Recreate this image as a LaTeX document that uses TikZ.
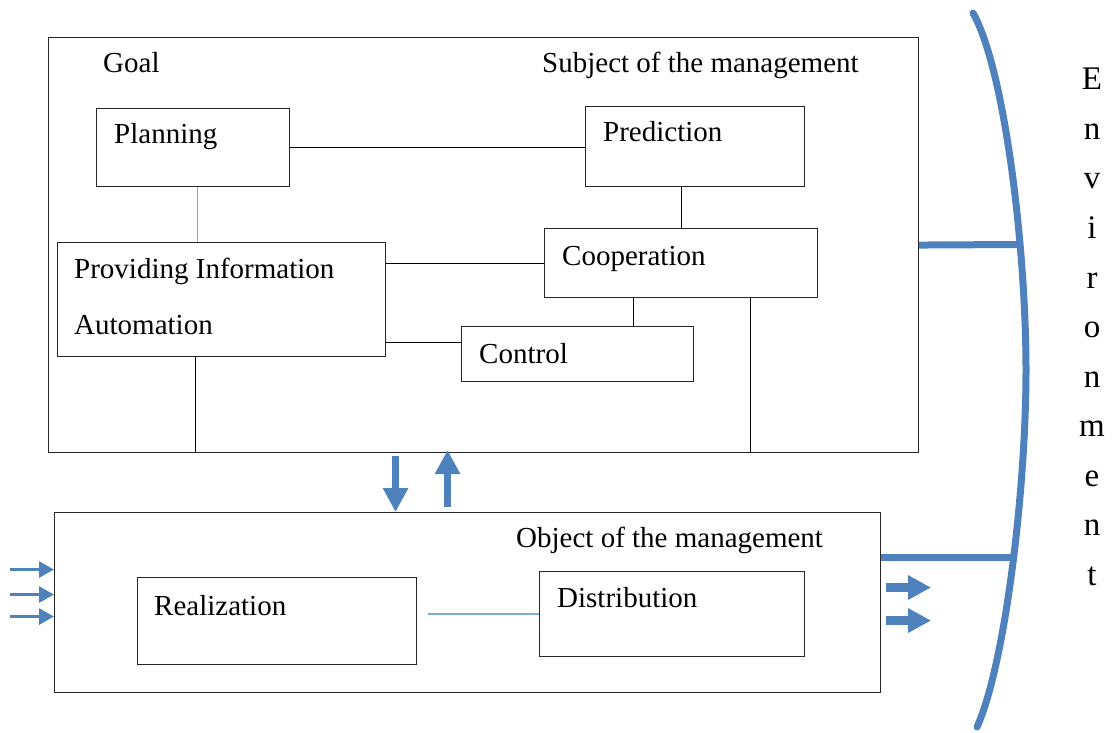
\documentclass[tikz,border=0pt]{standalone}
\usepackage{fontspec}
\setmainfont{Liberation Serif}
\usetikzlibrary{arrows.meta}
\definecolor{envblue}{RGB}{79,129,189}
\definecolor{lightlink}{RGB}{125,172,222}

\begin{document}
\begin{tikzpicture}[x=1pt, y=-1pt,
    box/.style={rectangle, draw=black!85, line width=1.1pt, anchor=north west, inner sep=0pt},
    txt/.style={anchor=base west, inner sep=0pt, font=\fontsize{29}{35}\selectfont},
    envchar/.style={anchor=base, inner sep=0pt, font=\fontsize{33}{40}\selectfont},
    link/.style={draw=black, line width=1pt},
    bluelink/.style={draw=lightlink, line width=1.2pt},
    bigarrow/.style={-{Triangle[length=24pt, width=24pt]}, line width=7.5pt, draw=envblue},
    inarrow/.style={-{Triangle[length=15pt, width=16pt]}, line width=3pt, draw=envblue},
    outarrow/.style={-{Triangle[length=23pt, width=23pt]}, line width=9pt, draw=envblue},
    envline/.style={line width=7pt, draw=envblue}
]

\useasboundingbox (0,0) rectangle (1114,733);

% subject of the management
\node (subj) [box, minimum width=870pt, minimum height=415pt] at (48,37) {};
\node (goal) [txt] at (103,73) {Goal};
\node (subjlbl) [txt] at (542,73) {Subject of the management};

\node (plan) [box, minimum width=193pt, minimum height=78pt] at (96,108) {};
\node (planlbl) [txt] at (114,143) {Planning};
\node (pred) [box, minimum width=219pt, minimum height=80pt] at (585,106) {};
\node (predlbl) [txt] at (603,142) {Prediction};
\node (coop) [box, minimum width=273pt, minimum height=69pt] at (544,228) {};
\node (cooplbl) [txt] at (562,265) {Cooperation};
\node (pia) [box, minimum width=328pt, minimum height=114pt] at (57,242) {};
\node (pialbl) [txt] at (74,278) {Providing Information};
\node (autolbl) [txt] at (74,334) {Automation};
\node (ctrl) [box, minimum width=232pt, minimum height=55pt] at (461,326) {};
\node (ctrllbl) [txt] at (479,363) {Control};

% object of the management
\node (obj) [box, minimum width=826pt, minimum height=180pt] at (54,512) {};
\node (objlbl) [txt] at (516,547) {Object of the management};
\node (real) [box, minimum width=279pt, minimum height=87pt] at (137,577) {};
\node (reallbl) [txt] at (154,615) {Realization};
\node (dist) [box, minimum width=265pt, minimum height=85pt] at (539,571) {};
\node (distlbl) [txt] at (557,607) {Distribution};

% environment
\foreach \ch [count=\i from 0] in {E,n,v,i,r,o,n,m,e,n,t}
    \node (env\i) [envchar] at (1092,90+49.5*\i) {\ch};

% links inside the subject
\coordinate (plandown) at ([xshift=4.5pt]plan.south);
\coordinate (preddown) at ([xshift=-13.5pt]pred.south);
\coordinate (ctrlin) at ([yshift=11.5pt]ctrl.west);
\coordinate (coopdown) at ([xshift=-47.5pt]coop.south);
\coordinate (piadown) at ([xshift=-26pt]pia.south);
\coordinate (coopright) at ([xshift=69.5pt]coop.south);

\draw [link] (plan.east) -- (plan.east -| pred.west);
\draw [bluelink] (plandown) -- (plandown |- pia.north);
\draw [link] (preddown) -- (preddown |- coop.north);
\draw [link] (coop.west -| pia.east) -- (coop.west);
\draw [link] (pia.east |- ctrlin) -- (ctrlin);
\draw [link] (coopdown) -- (coopdown |- ctrl.north);
\draw [link] (piadown) -- (piadown |- subj.south);
\draw [link] (coopright) -- (coopright |- subj.south);

% link inside the object
\coordinate (realout) at (real.east |- dist.west);
\draw [bluelink] ([xshift=11pt]realout) -- (dist.west);

% subject <-> object
\coordinate (downx) at ([xshift=-88pt, yshift=-3pt]subj.south);
\coordinate (upx) at ([xshift=-36pt, yshift=3pt]subj.south);
\coordinate (upbase) at ([xshift=-20pt, yshift=5pt]obj.north);
\draw [bigarrow] (downx) -- (downx |- obj.north);
\draw [bigarrow] (upbase) -- (upx);

% inputs and outputs
\foreach \dy in {33,8,-14}
    \draw [inarrow] ([xshift=-44pt, yshift=\dy pt]obj.west) -- ([yshift=\dy pt]obj.west);
\foreach \dy in {15,-18}
    \draw [outarrow] ([xshift=5pt, yshift=\dy pt]obj.east) -- ([xshift=50pt, yshift=\dy pt]obj.east);

% environment bracket
\coordinate (envtop) at (1020,244.5);
\coordinate (envbot) at (1014,557);
\draw [envline] (subj.east) -- (envtop);
\draw [envline] (obj.east |- envbot) -- (envbot);
\draw [envline, line cap=round] (973,13) .. controls (1005,70) and (1026,250) .. (1026,370)
    .. controls (1026,490) and (1005,665) .. (977,727);

\end{tikzpicture}
\end{document}
